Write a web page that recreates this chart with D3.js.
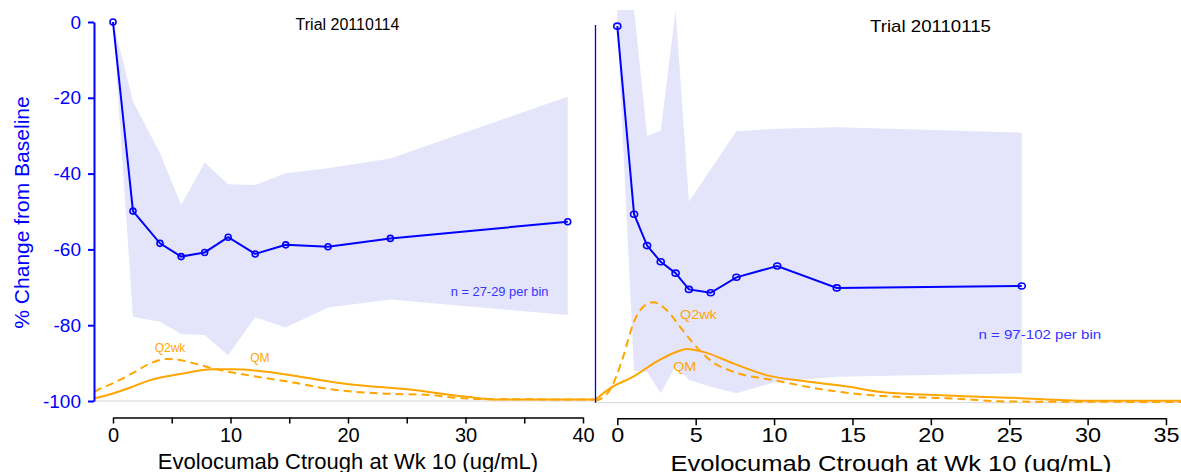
<!DOCTYPE html>
<html><head><meta charset="utf-8">
<script src="https://cdn.jsdelivr.net/npm/d3@7"></script>
<style>
body{margin:0;background:#fff}
svg{display:block}
text{font-family:"Liberation Sans",Arial,sans-serif}
</style>
</head><body>
<svg id="c" width="1181" height="472"></svg>
<script>
// ---------- DATA ----------
// Trial 20110114 (left panel)
const leftBinX    = [0, 1.7, 4.0, 5.8, 7.8, 9.8, 12.1, 14.7, 18.3, 23.6, 38.7];
const leftMedian  = [0, -49.9, -58.4, -61.9, -60.8, -56.8, -61.2, -58.8, -59.3, -57.1, -52.7];
const leftUpper   = [0, -21.0, -34.6, -48.3, -37.1, -42.8, -43.0, -39.9, -38.6, -36.0, -19.7];
const leftLower   = [0, -77.8, -79.1, -82.3, -82.6, -87.9, -77.9, -80.6, -75.3, -73.2, -77.3];
const leftQ2wkX   = [-1.6, -1.25, 0, 1.7, 3.15, 4.6, 5.7, 7.4, 8.5, 10.2, 13.1, 15.3, 18.5, 22.7, 27.0, 28.4, 31.2, 41];
const leftQ2wkY   = [-97.6, -97.0, -95.3, -92.6, -90.1, -88.9, -89.2, -90.5, -91.4, -92.5, -94.0, -95.1, -96.9, -98.0, -98.4, -98.9, -99.5, -99.6];
const leftQMX     = [-1.6, 0, 1.7, 3.15, 5.7, 8.5, 10.2, 13.1, 15.9, 19.9, 25.6, 30.1, 32.7, 41];
const leftQMY     = [-99.3, -98.0, -96.2, -94.5, -92.9, -91.6, -91.6, -92.3, -93.6, -95.5, -97.1, -98.9, -99.6, -99.6];

// Trial 20110115 (right panel)
const rightBinX   = [0, 1.07, 1.9, 2.77, 3.72, 4.57, 5.96, 7.6, 10.2, 14.0, 25.8];
const rightMedian = [-0.3, -50.1, -58.4, -62.7, -65.7, -70.0, -70.9, -66.8, -63.8, -69.6, -69.1];
const rightUpper  = [4, 4, -29.4, -28.0, 4, -46.8, -38.2, -28.1, -27.5, -27.1, -28.5];
const rightLower  = [0, -91.6, -91.8, -97.5, -90.3, -94.0, -95.8, -97.5, -94.4, -93.1, -92.2];
const rightQ2wkX  = [-1.42, -0.47, 0.38, 1.02, 1.66, 2.3, 3.15, 4.0, 4.85, 5.9, 7.4, 9.95, 13.1, 16.75, 21, 25.2, 36];
const rightQ2wkY  = [-99.6, -96.6, -87.8, -79.0, -74.6, -73.4, -75.5, -79.9, -84.3, -88.7, -91.8, -94.0, -96.5, -98.2, -98.8, -99.7, -99.8];
const rightQMX    = [-1.42, -0.47, 1.02, 2.51, 3.79, 4.43, 5.7, 7.4, 9.5, 12.1, 14.8, 16.7, 21, 25.2, 29.9, 36];
const rightQMY    = [-99.3, -96.2, -93.1, -89.1, -86.5, -85.8, -86.8, -89.6, -92.7, -94.4, -95.8, -97.1, -98.1, -98.7, -99.5, -99.5];

const yTicks      = [0, -20, -40, -60, -80, -100];
const leftXTicks  = [0, 5, 10, 15, 20, 25, 30, 35, 40];
const leftXLabels = [0, 10, 20, 30, 40];
const rightXTicks = [0, 5, 10, 15, 20, 25, 30, 35];

const titles      = ["Trial 20110114", "Trial 20110115"];
const nLabels     = ["n = 27-29 per bin", "n = 97-102 per bin"];
const xTitle      = "Evolocumab Ctrough at Wk 10 (ug/mL)";
const yTitle      = "% Change from Baseline";

// ---------- STYLE ----------
const BLUE = "#0000ff", BAND = "#e4e4fb", ORANGE = "#ffa500", GRAY = "#d6d6d6";
const svg = d3.select("#c");

// ---------- SCALES ----------
const xL = d3.scaleLinear().domain([0, 40]).range([113, 583]);
const yL = d3.scaleLinear().domain([0, -100]).range([22, 401]);
const xR = d3.scaleLinear().domain([0, 35]).range([617.3, 1166]);
const yR = d3.scaleLinear().domain([0, -100]).range([25, 402.7]);

const defs = svg.append("defs");
defs.append("clipPath").attr("id","clipL").append("rect").attr("x",94).attr("y",0).attr("width",501).attr("height",404);
defs.append("clipPath").attr("id","clipR").append("rect").attr("x",595.5).attr("y",10).attr("width",586).attr("height",394);

function drawPanel(p) {
  const {x, y, clip, binX, med, up, lo, q2x, q2y, qmx, qmy, sx, xMin, xMax} = p;
  svg.append("line").attr("x1", x(xMin)).attr("x2", x(xMax))
    .attr("y1", y(-100)).attr("y2", y(-100)).attr("stroke", GRAY).attr("stroke-width", 1);
  const g = svg.append("g").attr("clip-path", `url(#${clip})`);
  const bandData = binX.map((d,i)=>({x:d, u:up[i], l:lo[i]}));
  g.append("path").datum(bandData)
    .attr("d", d3.area().x(d=>x(d.x)).y0(d=>y(d.l)).y1(d=>y(d.u)))
    .attr("fill", BAND).attr("stroke", "none");
  const line = d3.line().x(d=>x(d[0])).y(d=>y(d[1])).curve(d3.curveMonotoneX);
  g.append("path").datum(q2x.map((d,i)=>[d,q2y[i]])).attr("d", line)
    .attr("fill","none").attr("stroke",ORANGE).attr("stroke-width",2).attr("stroke-dasharray","8,5");
  g.append("path").datum(qmx.map((d,i)=>[d,qmy[i]])).attr("d", line)
    .attr("fill","none").attr("stroke",ORANGE).attr("stroke-width",2);
  const pts = binX.map((d,i)=>[d, med[i]]);
  g.append("path").datum(pts).attr("d", d3.line().x(d=>x(d[0])).y(d=>y(d[1])))
    .attr("fill","none").attr("stroke",BLUE).attr("stroke-width",2);
  g.selectAll("ellipse.pt").data(pts).join("ellipse")
    .attr("cx", d=>x(d[0])).attr("cy", d=>y(d[1]))
    .attr("rx", 3 * sx).attr("ry", 3)
    .attr("fill","none").attr("stroke",BLUE).attr("stroke-width",1.6);
}

drawPanel({x:xL, y:yL, clip:"clipL", binX:leftBinX, med:leftMedian, up:leftUpper, lo:leftLower,
  q2x:leftQ2wkX, q2y:leftQ2wkY, qmx:leftQMX, qmy:leftQMY, sx:1, xMin:-1.6, xMax:41.0});
drawPanel({x:xR, y:yR, clip:"clipR", binX:rightBinX, med:rightMedian, up:rightUpper, lo:rightLower,
  q2x:rightQ2wkX, q2y:rightQ2wkY, qmx:rightQMX, qmy:rightQMY, sx:1.17, xMin:-1.42, xMax:36});

// ---------- AXES ----------
const yAx = svg.append("g").attr("transform","translate(94,0)")
  .call(d3.axisLeft(yL).tickValues(yTicks).tickSize(6).tickSizeOuter(0).tickPadding(7).tickFormat(d3.format("d")));
yAx.select(".domain").attr("stroke",BLUE).attr("stroke-width",2);
yAx.selectAll(".tick line").attr("stroke",BLUE).attr("stroke-width",2);
yAx.selectAll(".tick text").attr("fill",BLUE).style("font-size","19px").text(d=>d===0?"0":"-"+Math.abs(d));

svg.append("line").attr("x1",595.5).attr("x2",595.5).attr("y1",yR(0)).attr("y2",yR(-100))
  .attr("stroke",BLUE).attr("stroke-width",1.3);

const xAxL = svg.append("g").attr("transform","translate(0,417.5)")
  .call(d3.axisBottom(xL).tickValues(leftXTicks).tickSize(6).tickSizeOuter(0).tickPadding(4)
    .tickFormat(d => leftXLabels.includes(d) ? d : ""));
xAxL.select(".domain").attr("stroke","#000").attr("stroke-width",1.5);
xAxL.selectAll(".tick line").attr("stroke","#000").attr("stroke-width",1.5);
xAxL.selectAll(".tick text").attr("fill","#000").style("font-size","20px");

const xAxR = svg.append("g").attr("transform","translate(0,418.3)")
  .call(d3.axisBottom(xR).tickValues(rightXTicks).tickSize(7).tickSizeOuter(0).tickPadding(3));
xAxR.select(".domain").attr("stroke","#000").attr("stroke-width",1.5);
xAxR.selectAll(".tick line").attr("stroke","#000").attr("stroke-width",1.5);
xAxR.selectAll(".tick text").attr("fill","#000").style("font-size","20px").attr("transform","scale(1.17,1)");

// ---------- TEXT ----------
function txt(xp, yp, s, size, color, sx, anchor) {
  svg.append("g").attr("transform",`translate(${xp},${yp})`)
    .append("text").attr("transform",`scale(${sx},1)`).attr("text-anchor",anchor||"middle")
    .attr("fill",color).style("font-size",size+"px").text(s);
}
svg.append("text").attr("transform","translate(28.5,212.5) rotate(-90)").attr("text-anchor","middle")
  .attr("fill",BLUE).style("font-size","21px").text(yTitle);
txt(348, 468.5, xTitle, 22, "#000", 1);
txt(891, 470.5, xTitle, 22, "#000", 1.16);
txt(347.5, 29.5, titles[0], 16, "#000", 1);
txt(930.5, 32, titles[1], 16, "#000", 1.165);
txt(xL(32.9), yL(-72.2), nLabels[0], 12.9, "#3535ff", 1);
txt(xR(26.95), yR(-83.2), nLabels[1], 12.9, "#3535ff", 1.17);
txt(xL(4.85), yL(-87.0), "Q2wk", 12, ORANGE, 1);
txt(xL(12.5), yL(-89.8), "QM", 12, ORANGE, 1);
txt(xR(5.17), yR(-77.9), "Q2wk", 12.2, ORANGE, 1.18);
txt(xR(4.3), yR(-91.6), "QM", 12.2, ORANGE, 1.18);
</script>
</body></html>
